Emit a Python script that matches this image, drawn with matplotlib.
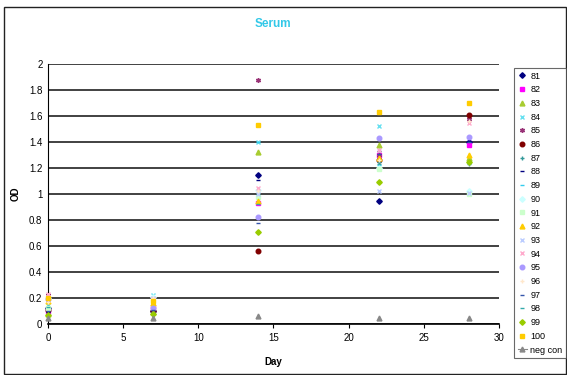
import numpy as np
import matplotlib
matplotlib.use('Agg')
import matplotlib.pyplot as plt
from matplotlib.lines import Line2D
from matplotlib.patches import Rectangle

plt.rcParams['font.family'] = ['Liberation Sans', 'DejaVu Sans']

# Data
days = [0, 7, 14, 22, 28]
labels = ['81', '82', '83', '84', '85', '86', '87', '88', '89', '90',
          '91', '92', '93', '94', '95', '96', '97', '98', '99', '100', 'neg con']
s81 = [0.12, 0.10, 1.15, 0.95, 1.40]
s82 = [0.10, 0.13, 0.93, 1.30, 1.38]
s83 = [0.08, 0.09, 1.32, 1.38, 1.28]
s84 = [0.15, 0.22, 1.40, 1.52, 1.01]
s85 = [0.22, 0.18, 1.88, 1.30, 1.58]
s86 = [0.11, 0.10, 0.56, 1.26, 1.61]
s87 = [0.13, 0.12, 1.00, 1.25, 1.23]
s88 = [0.09, 0.11, 1.11, 1.33, 1.41]
s89 = [0.14, 0.15, 1.40, 1.22, 1.24]
s90 = [0.20, 0.21, 1.03, 1.20, 1.02]
s91 = [0.12, 0.14, 0.98, 1.19, 1.00]
s92 = [0.18, 0.16, 0.95, 1.28, 1.30]
s93 = [0.21, 0.20, 1.00, 1.02, 1.01]
s94 = [0.23, 0.19, 1.05, 1.34, 1.55]
s95 = [0.19, 0.12, 0.82, 1.43, 1.44]
s96 = [0.17, 0.20, 1.02, 1.26, 1.56]
s97 = [0.10, 0.11, 0.78, 1.31, 1.40]
s98 = [0.13, 0.09, 0.92, 1.23, 1.25]
s99 = [0.07, 0.08, 0.71, 1.09, 1.25]
s100 = [0.20, 0.18, 1.53, 1.63, 1.70]
neg_con = [0.05, 0.05, 0.06, 0.05, 0.05]

series = [s81, s82, s83, s84, s85, s86, s87, s88, s89, s90,
          s91, s92, s93, s94, s95, s96, s97, s98, s99, s100, neg_con]

# marker style per series (Excel-like)
colors = ['#000080', '#FF00FF', '#A8CC30', '#66E0F0', '#993377', '#800000',
          '#339999', '#000080', '#33CCEE', '#CCFFFF', '#CCFFCC', '#FFCC00',
          '#BBCCFF', '#FFAACC', '#AA99FF', '#FFE8CC', '#3355AA', '#33AAAA',
          '#99CC00', '#FFCC00', '#888888']
markers = ['D', 's', '^', 'x', (6, 2, 0), 'o', '+', '_', '_', 'D',
           's', '^', 'x', 'x', 'o', '+', '_', '_', 'D', 's', '^']
sizes = [2.8, 3.3, 3.5, 3.5, 3.5, 3.3, 3.5, 3.0, 3.5, 2.8,
         3.3, 3.5, 3.5, 3.5, 3.3, 3.5, 3.0, 3.5, 2.8, 3.3, 3.5]

fig = plt.figure(figsize=(5.67, 3.75), dpi=100)
ax = fig.add_axes([0.0847, 0.136, 0.795, 0.693])

handles = []
for vals, lab, c, m, ms in zip(series, labels, colors, markers, sizes):
    ax.plot(days, vals, linestyle='none', marker=m, color=c, markersize=ms,
            markeredgewidth=1.0, clip_on=False, zorder=3)
    if lab == 'neg con':
        h = Line2D([], [], color=c, marker=m, markersize=ms, linewidth=0.8)
    else:
        h = Line2D([], [], color=c, marker=m, markersize=ms, linestyle='none',
                   markeredgewidth=1.0)
    handles.append(h)

ax.set_xlim(0, 30)
ax.set_ylim(0, 2)
ax.set_xticks([0, 5, 10, 15, 20, 25, 30])
ax.set_yticks(np.arange(0, 2.01, 0.2))
ax.set_yticklabels(['0', '0.2', '0.4', '0.6', '0.8', '1', '1.2', '1.4', '1.6', '1.8', '2'])
ax.tick_params(axis='both', labelsize=7, length=3, width=0.8, color='black')
ax.tick_params(axis='y', length=0, pad=4)
ax.yaxis.grid(True, color='#333333', linewidth=1.3)
ax.set_axisbelow(True)
for side in ['top', 'right']:
    ax.spines[side].set_visible(False)
ax.spines['left'].set_color('black')
ax.spines['bottom'].set_color('black')
ax.spines['bottom'].set_linewidth(1.2)

ax.set_xlabel('Day', fontsize=7, fontweight='bold', labelpad=10)
ax.set_ylabel('OD', fontsize=7, fontweight='bold', labelpad=6)
ax.set_title('Serum', fontsize=8.5, fontweight='bold', color='#33C8E8', pad=27)

leg = fig.legend(handles, labels, loc='upper left', bbox_to_anchor=(514 / 567, 1 - 68 / 375),
                 fontsize=6.5, frameon=True, fancybox=False, edgecolor='#444444',
                 handlelength=1.0, handletextpad=0.4, labelspacing=0.52,
                 borderpad=0.4, borderaxespad=0)
leg.get_frame().set_linewidth(0.8)

fig.patches.append(Rectangle((4 / 567, 0.002), 562 / 567, 1 - 7 / 375 - 0.002,
                             transform=fig.transFigure, fill=False,
                             edgecolor='#222222', linewidth=1.0))

fig.savefig('out.png', dpi=100)
